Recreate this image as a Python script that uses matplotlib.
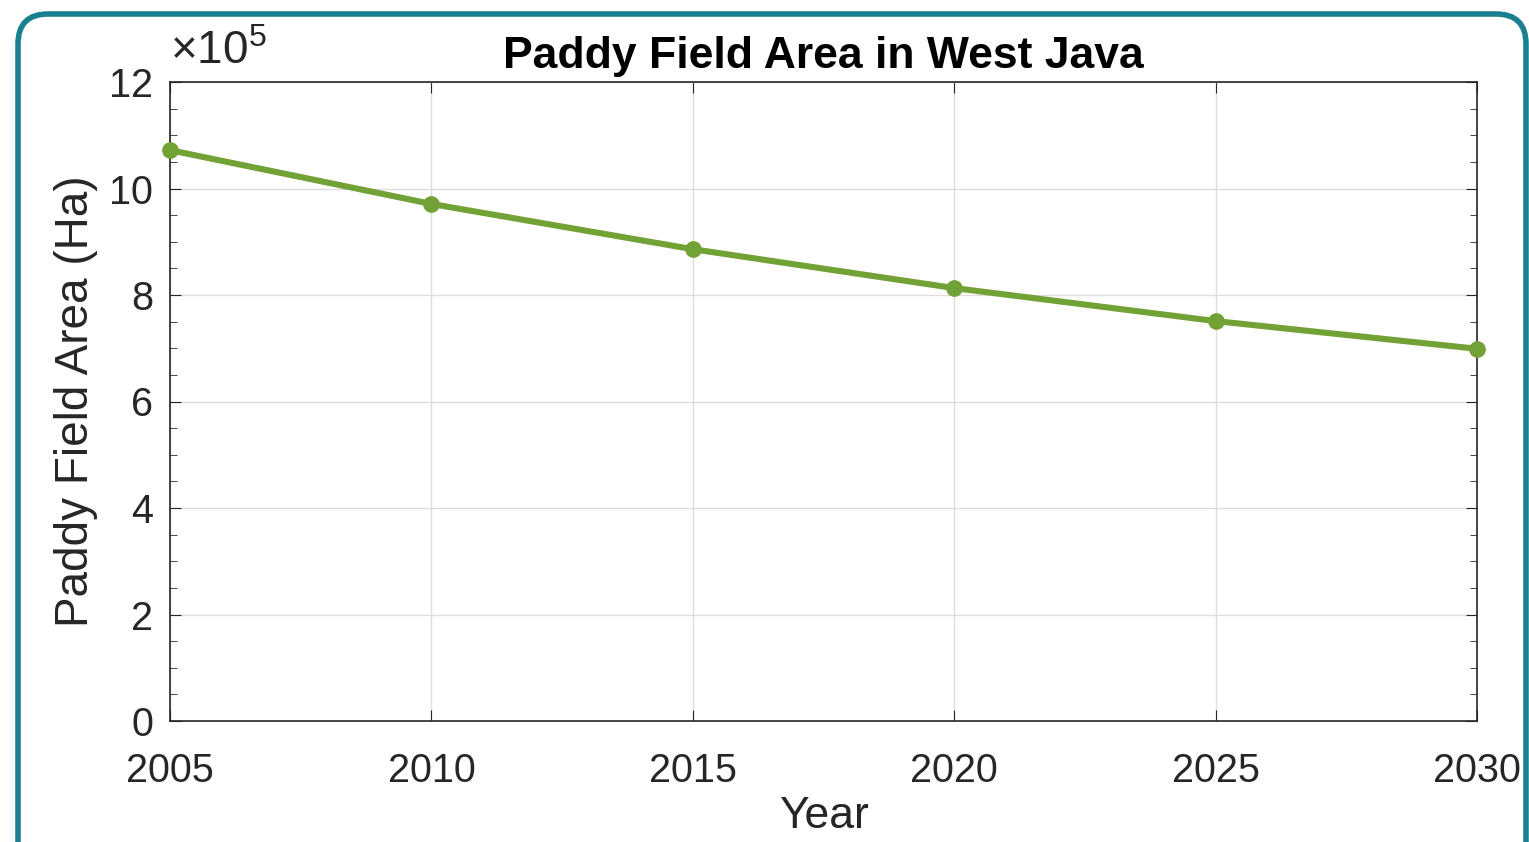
import matplotlib.pyplot as plt
from matplotlib.patches import FancyBboxPatch
from matplotlib.ticker import MultipleLocator

years = [2005, 2010, 2015, 2020, 2025, 2030]
area = [10.72e5, 9.71e5, 8.86e5, 8.13e5, 7.51e5, 6.99e5]

plt.rcParams['font.family'] = ['Liberation Sans', 'DejaVu Sans']
plt.rcParams['mathtext.fontset'] = 'custom'
plt.rcParams['mathtext.rm'] = 'Liberation Sans'
plt.rcParams['mathtext.it'] = 'Liberation Sans'
txt = "#262626"

W, H = 1529, 842
fig = plt.figure(figsize=(W / 100, H / 100), dpi=100)
# rounded teal frame, drawn in pixel coords (y from bottom)
frame = FancyBboxPatch((18, -40), 1508, H - 14 + 40, boxstyle="round,pad=0,rounding_size=30",
                       transform=None, fill=False, edgecolor="#1a8090", linewidth=4)
fig.patches.append(frame)

ax = fig.add_axes([170 / W, 121 / H, 1307 / W, 639 / H])
ax.plot(years, [a / 1e5 for a in area], color="#72a136", linewidth=4.4,
        marker="o", markersize=11, clip_on=False, zorder=3)

ax.set_xlim(2005, 2030)
ax.set_ylim(0, 12)
ax.set_xticks(years)
ax.set_yticks(range(0, 13, 2))
ax.yaxis.set_minor_locator(MultipleLocator(0.5))
ax.grid(True, color="#dddddd", linewidth=1)
ax.set_axisbelow(True)
ax.tick_params(direction="in", which="both", top=True, right=True, labelsize=28.5, colors=txt)
ax.tick_params(axis="y", pad=12)
ax.tick_params(axis="x", pad=22)
ax.tick_params(which="major", length=8)
ax.tick_params(which="minor", length=5)
for s in ax.spines.values():
    s.set_color(txt)
    s.set_linewidth(1.2)

ax.set_xlabel("Year", fontsize=32, color=txt, labelpad=5)
ax.set_ylabel("Paddy Field Area (Ha)", fontsize=33, color=txt, labelpad=8)
ax.set_title("Paddy Field Area in West Java", fontsize=32, fontweight="bold", color="black", pad=10)
ax.text(0.0, 1.012, r"$\times10^5$", transform=ax.transAxes, fontsize=33, color=txt,
        ha="left", va="bottom")

fig.savefig("out.png", dpi=100)
